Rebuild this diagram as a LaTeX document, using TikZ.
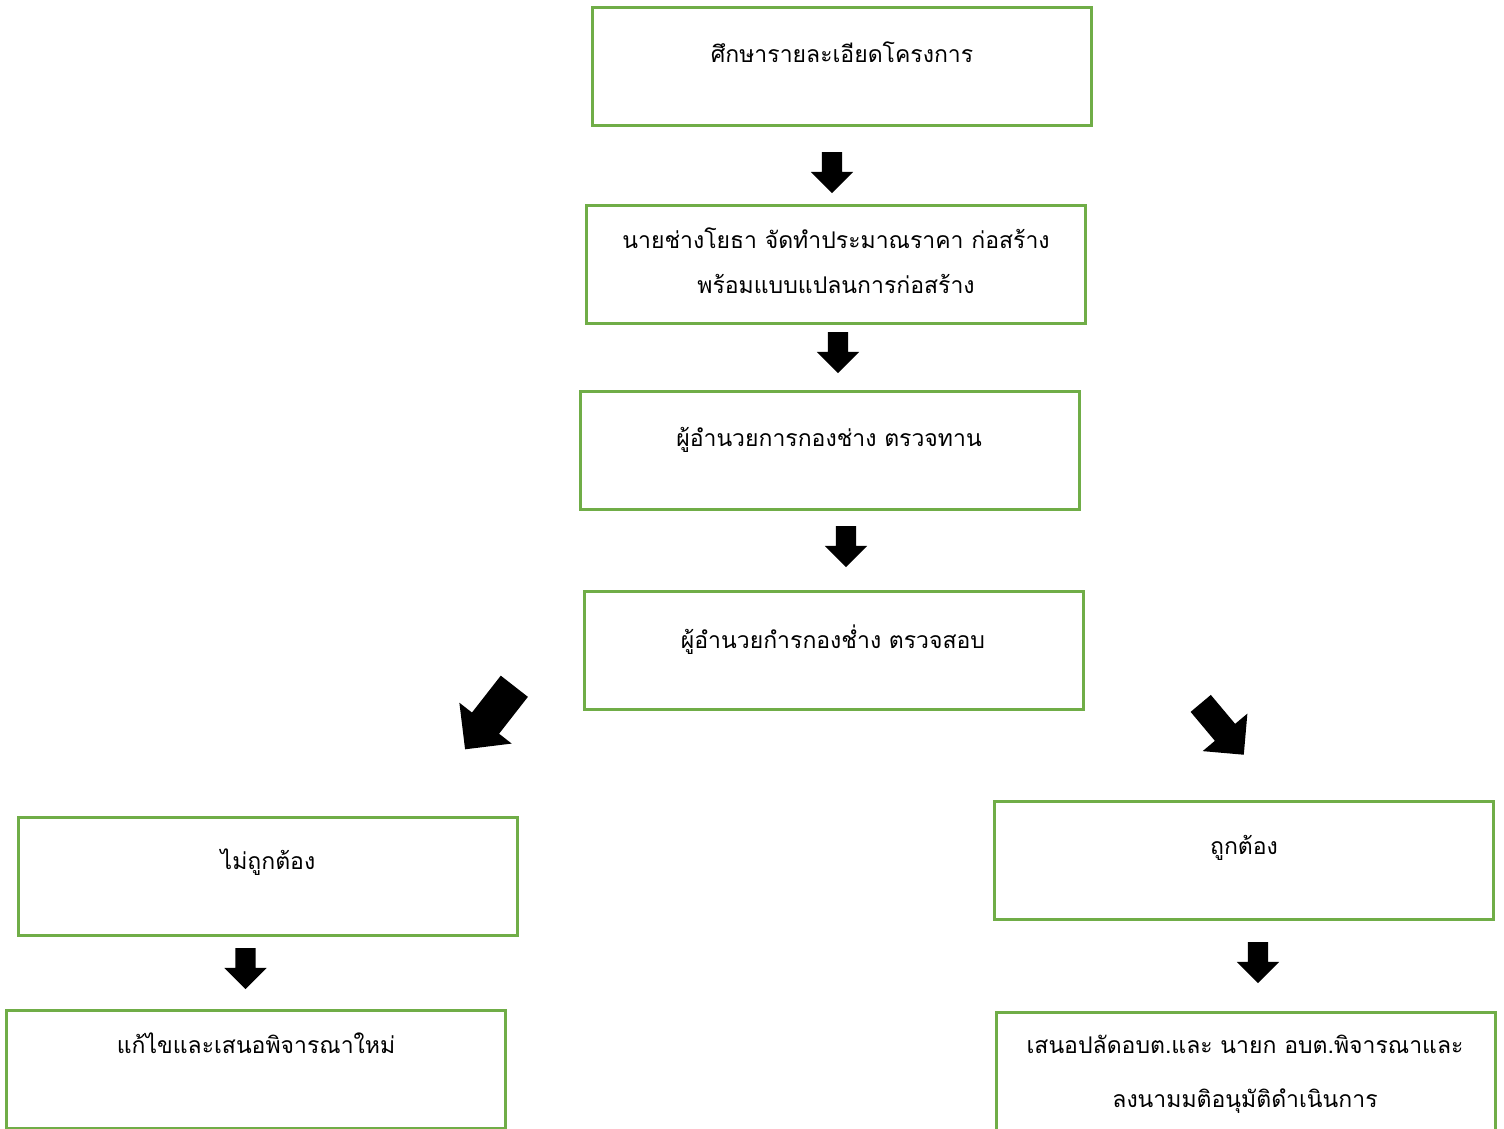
\documentclass[tikz,border=0pt]{standalone}
\usepackage{fontspec}
\usepackage{tikz}
\usetikzlibrary{shapes.arrows}
\newfontfamily\thaifont[Script=Thai]{Loma}
\definecolor{boxgreen}{HTML}{70AD47}

\begin{document}
\begin{tikzpicture}[x=1pt,y=-1pt]
        \tikzstyle{block}=[draw=boxgreen,line width=2.8pt,minimum width=499.2pt,minimum height=118.2pt,inner sep=0pt]
        \tikzstyle{txt}=[inner sep=0pt,align=center,font=\thaifont\fontsize{23}{45}\selectfont]
        \tikzstyle{blockarrow}=[single arrow,fill=black,inner xsep=0pt,minimum width=0pt]
        \tikzstyle{downarrow}=[blockarrow,inner ysep=10pt,minimum height=41pt,single arrow head extend=11pt,rotate=-90]

        \useasboundingbox (0,0) rectangle (1504,1129);

        % boxes
        \node[block](study) at (842,66.5){};
        \node[block](estimate) at (836,264.5){};
        \node[block](review) at (830,450.5){};
        \node[block](check) at (834,650.5){};
        \node[block](wrong) at (268,876.5){};
        \node[block](redo) at (256,1069.5){};
        \node[block](right) at (1244,860.5){};
        \node[block](approve) at (1246,1071.5){};

        % texts
        \node[txt](tstudy) at (842,52){ศึกษารายละเอียดโครงการ};
        \node[txt](testimate) at (836,261){นายช่างโยธา จัดทำประมาณราคา ก่อสร้าง\\พร้อมแบบแปลนการก่อสร้าง};
        \node[txt](treview) at (829,440){ผู้อำนวยการกองช่าง ตรวจทาน};
        \node[txt](tcheck) at (833,640){ผู้อำนวยกำรกองช่ำง ตรวจสอบ};
        \node[txt](twrong) at (268,862){ไม่ถูกต้อง};
        \node[txt](tredo) at (256,1043){แก้ไขและเสนอพิจารณาใหม่};
        \node[txt](tright) at (1244,848){ถูกต้อง};
        \node[txt,font=\thaifont\fontsize{23}{54}\selectfont](tapprove) at (1245,1074){เสนอปลัดอบต.และ นายก อบต.พิจารณาและ\\ลงนามมติอนุมัติดำเนินการ};

        % block arrows
        \node[downarrow](a1) at (832,167.5){};
        \node[downarrow](a2) at (838,347.5){};
        \node[downarrow](a3) at (846,541.5){};
        \node[downarrow](a6) at (245.5,963.5){};
        \node[downarrow](a7) at (1258,957.5){};
        \node[blockarrow,inner ysep=17pt,minimum height=80pt,single arrow head extend=16pt,rotate=232](a4) at (495,711){};
        \node[blockarrow,inner ysep=13pt,minimum height=67pt,single arrow head extend=16pt,rotate=-50](a5) at (1218,724){};

    \end{tikzpicture}
\end{document}
